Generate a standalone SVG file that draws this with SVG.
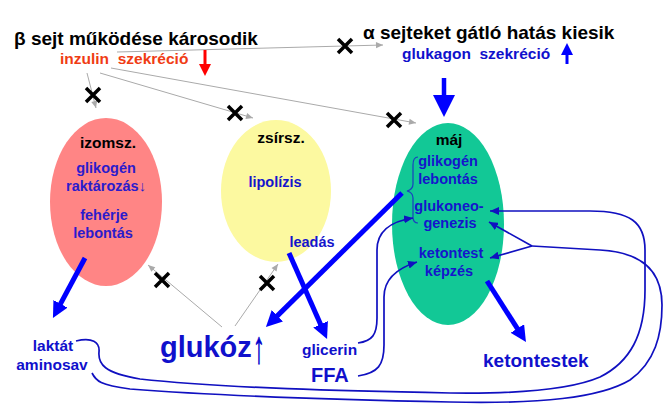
<svg xmlns="http://www.w3.org/2000/svg" width="666" height="408" viewBox="0 0 666 408">
<style>
text{font-family:"Liberation Sans",Arial,sans-serif;font-weight:bold}
.t{font-size:19px;fill:#000}
.hdr{font-size:15.5px;fill:#000;text-anchor:middle}
.in{font-size:14.5px;fill:#1515cc;text-anchor:middle}
.inp{font-size:14.5px;fill:#2b1bcc;text-anchor:middle}
.lbl{fill:#1010cc}
.gray{stroke:#aaaaaa;stroke-width:1;fill:none;marker-end:url(#ga)}
.thick{stroke:#0000ff;stroke-width:5;fill:none;marker-end:url(#ba)}
.thin{stroke:#1010c0;stroke-width:1.7;fill:none}
.x{stroke:#000;stroke-width:3.5;fill:none}
</style>
<defs>
<marker id="ga" viewBox="0 0 8 8" refX="8" refY="4" markerWidth="8" markerHeight="7" markerUnits="userSpaceOnUse" orient="auto"><path d="M0,0.5 L8,4 L0,7.5 z" fill="#aaaaaa"/></marker>
<marker id="ba" viewBox="0 0 16 16" refX="4" refY="8" markerWidth="16" markerHeight="16" markerUnits="userSpaceOnUse" orient="auto"><path d="M0,0 L16,8 L0,16 z" fill="#0000ff"/></marker>
<marker id="bb" viewBox="0 0 22 22" refX="5" refY="11" markerWidth="22" markerHeight="22" markerUnits="userSpaceOnUse" orient="auto"><path d="M0,0 L22,11 L0,22 z" fill="#0000ff"/></marker>
<marker id="bs" viewBox="0 0 12 12" refX="3" refY="6" markerWidth="12" markerHeight="12" markerUnits="userSpaceOnUse" orient="auto"><path d="M0,0 L12,6 L0,12 z" fill="#0000ff"/></marker>
<marker id="rs" viewBox="0 0 12 12" refX="3" refY="6" markerWidth="12" markerHeight="12" markerUnits="userSpaceOnUse" orient="auto"><path d="M0,0 L12,6 L0,12 z" fill="#ff0000"/></marker>
<marker id="ta" viewBox="0 0 9 8" refX="9" refY="4" markerWidth="9" markerHeight="8" markerUnits="userSpaceOnUse" orient="auto"><path d="M0,0 L9,4 L0,8 z" fill="#1010c0"/></marker>
</defs>
<rect width="666" height="408" fill="#ffffff"/>

<g id="izomszovet">
<ellipse cx="106" cy="202" rx="56" ry="84" fill="#ff8585"/>
<text class="hdr" x="108" y="148">izomsz.</text>
<text class="inp" x="106" y="173">glikogén</text>
<text class="inp" x="106" y="191">raktározás↓</text>
<text class="inp" x="104" y="220">fehérje</text>
<text class="inp" x="103" y="238">lebontás</text>
</g>

<g id="zsirszovet">
<ellipse cx="276" cy="191" rx="55" ry="71" fill="#fcf9a0"/>
<text class="hdr" x="281" y="143">zsírsz.</text>
<text class="in" x="275" y="187">lipolízis</text>
<text class="in" x="312" y="247">leadás</text>
</g>

<g id="maj">
<ellipse cx="448" cy="224" rx="56" ry="101" fill="#12c896"/>
<text class="hdr" x="449" y="145">máj</text>
<text class="in" x="448" y="166">glikogén</text>
<text class="in" x="448" y="184">lebontás</text>
<text class="in" x="449" y="211">glukoneo-</text>
<text class="in" x="450" y="228">genezis</text>
<text class="in" x="451" y="258">ketontest</text>
<text class="in" x="449" y="276">képzés</text>
<path d="M418,157 C414,157 413,160 413,165 L413,184 C413,188 411,190 407,191 C411,192 413,194 413,198 L413,217 C413,221 415,223 418,223" stroke="#1a3fc0" stroke-width="1.2" fill="none"/>
</g>

<g id="beta">
<text class="t" x="14" y="45">β sejt működése károsodik</text>
<text x="60" y="64" font-size="15.5" fill="#f03c14" xml:space="preserve">inzulin  szekréció</text>
</g>

<g id="alpha">
<text class="t" x="363" y="39">α sejteket gátló hatás kiesik</text>
<text x="402" y="59" font-size="15.5" fill="#1010cc" xml:space="preserve">glukagon  szekréció</text>
</g>

<g id="laktat">
<text class="lbl" x="53" y="351" font-size="15.5" text-anchor="middle">laktát</text>
<text class="lbl" x="52" y="370" font-size="15.5" text-anchor="middle">aminosav</text>
</g>

<g id="glukoz">
<text class="lbl" x="160" y="357" font-size="29">glukóz</text>
<text transform="translate(253,363) scale(1,1.9)" font-size="24" font-weight="normal" fill="#0000cc" stroke="#0000cc" stroke-width="0.4">↑</text>
</g>

<g id="glicerin">
<text class="lbl" x="302" y="355" font-size="15.5">glicerin</text>
</g>

<g id="ffa">
<text class="lbl" x="311" y="382" font-size="20">FFA</text>
</g>

<g id="ketontestek">
<text class="lbl" x="483" y="367" font-size="19">ketontestek</text>
</g>

<g id="connectors">
<path class="gray" d="M117,52 L383,45"/>
<path class="gray" d="M111,68 L416,123"/>
<path class="gray" d="M100,73 L253,118"/>
<path class="gray" d="M87,73 L96,108"/>
<path class="gray" d="M222,327 L148,265"/>
<path class="gray" d="M235,326 L278,264"/>
<path class="x" d="M338,39 L352,53 M352,39 L338,53"/>
<path class="x" d="M86,88 L100,102 M100,88 L86,102"/>
<path class="x" d="M228,106 L242,120 M242,106 L228,120"/>
<path class="x" d="M387,113 L401,127 M401,113 L387,127"/>
<path class="x" d="M155,273 L169,287 M169,273 L155,287"/>
<path class="x" d="M260,276 L274,290 M274,276 L260,290"/>
<path d="M205,50 L205,67" stroke="#ff0000" stroke-width="3" fill="none" marker-end="url(#rs)"/>
<path d="M567,64 L567,52" stroke="#0000ff" stroke-width="3" fill="none" marker-end="url(#bs)"/>
<path d="M444,78 L444,100" stroke="#0000ff" stroke-width="4.5" fill="none" marker-end="url(#bb)"/>
<path class="thick" d="M85,258 L58.6,307.4"/>
<path class="thick" d="M402,193 L274.5,318.6"/>
<path class="thick" d="M289,253 L322.2,328"/>
<path class="thick" d="M487,281 L519.5,331.9"/>
<path class="thin" marker-end="url(#ta)" d="M358,343 C372,341 377,335 377,318 L377,250 C377,229 393,221 413,218"/>
<path class="thin" marker-end="url(#ta)" d="M358,376 C378,373 384,365 384,345 L384,297 C384,278 398,268 417,262"/>
<path class="thin" marker-end="url(#ta)" d="M76,341 C92,337 100,342 99,352 C98,364 104,373 140,379 C220,388 350,391 450,393 C520,394 570,390 600,377 C630,362 645,335 645,290 L645,250 C645,222 630,211 590,211 L490,211"/>
<path class="thin" d="M92,373 C96,381 100,385 130,389 C220,396 350,400 450,402 C540,404 600,398 630,380 C655,362 662,335 662,305 C662,270 640,252 600,250 L532,246"/>
<path class="thin" marker-end="url(#ta)" d="M532,246 L489,222"/>
<path class="thin" marker-end="url(#ta)" d="M532,246 L490,258"/>
</g>
</svg>
